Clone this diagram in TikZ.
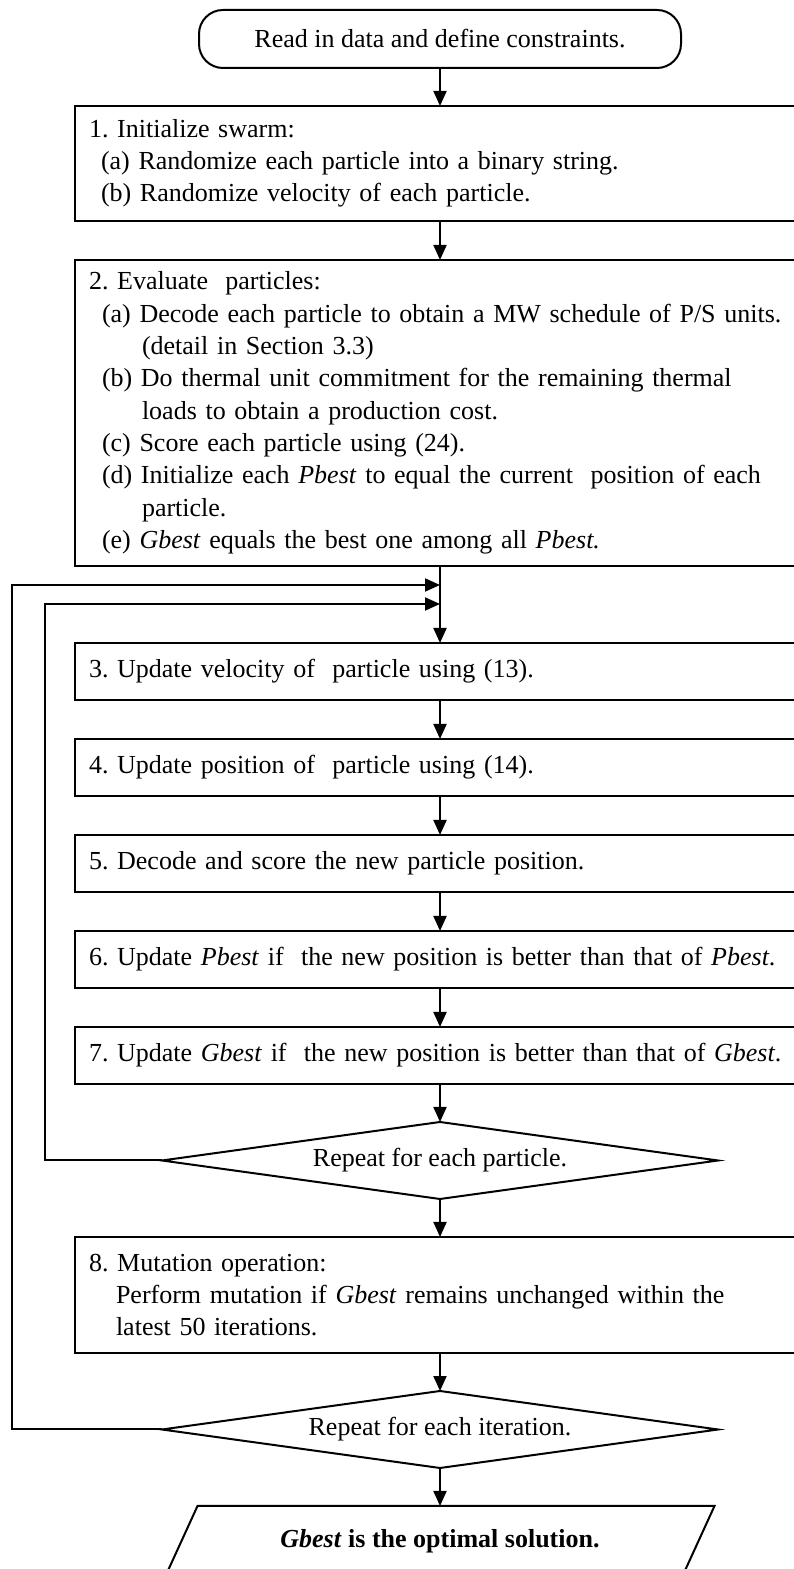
\documentclass[tikz,border=0pt]{standalone}
\usepackage{fontspec}
\setmainfont{Liberation Serif}
\usepackage{tikz}
\usetikzlibrary{shapes.geometric,arrows.meta}
\usetikzlibrary{positioning}
\newcommand{\flowfont}{\fontsize{26pt}{32.3pt}\selectfont}
\tikzstyle{terminal} = [rectangle, draw, line width=2pt, rounded corners=24pt,
    minimum width=482pt, minimum height=58pt]
\tikzstyle{block} = [rectangle, draw, line width=2pt, text width=702pt,
    align=left, inner xsep=14pt, inner ysep=0pt, minimum height=57pt]
\tikzstyle{decision} = [diamond, draw, line width=2pt, aspect=7.2,
    inner sep=1pt, minimum width=556pt, minimum height=77pt]
\tikzstyle{io} = [rectangle, inner sep=0pt, minimum width=549pt,
    minimum height=70pt, font=\flowfont\bfseries]
\tikzstyle{line} = [draw, line width=2pt, -{Triangle[length=15pt,width=13pt]}]

\begin{document}
\frenchspacing
\begin{tikzpicture}[x=1pt, y=1pt, node distance=38pt,
    every node/.style={font=\flowfont, outer sep=0pt}]
  \useasboundingbox (0,0) rectangle (794,1569);
  % Place nodes
  \node [terminal] (start) at (440,1530) {Read in data and define constraints.};
  \node [block, below=of start, minimum height=115pt] (init) {1. Initialize swarm:\\
    \hspace*{12pt}(a) Randomize each particle into a binary string.\\
    \hspace*{12pt}(b) Randomize velocity of each particle.};
  \node [block, below=39pt of init, minimum height=306pt] (eval) {2. Evaluate\ \ particles:\\
    \hspace*{13pt}(a) Decode each particle to obtain a MW schedule of P/S units.\\
    \hspace*{53pt}(detail in Section 3.3)\\
    \hspace*{13pt}(b) Do thermal unit commitment for the remaining thermal\\
    \hspace*{53pt}loads to obtain a production cost.\\
    \hspace*{13pt}(c) Score each particle using (24).\\
    \hspace*{13pt}(d) Initialize each \textit{Pbest} to equal the current\ \ position of each\\
    \hspace*{53pt}particle.\\
    \hspace*{13pt}(e) \textit{Gbest} equals the best one among all \textit{Pbest.}};
  \node [block, below=77pt of eval] (velo) {3. Update velocity of\ \ particle using (13).};
  \node [block, below=39pt of velo] (posi) {4. Update position of\ \ particle using (14).};
  \node [block, below=39pt of posi] (score) {5. Decode and score the new particle position.};
  \node [block, below=39pt of score] (pbest) {6. Update \textit{Pbest} if\ \ the new position is better than that of \textit{Pbest}.};
  \node [block, below=39pt of pbest] (gbest) {7. Update \textit{Gbest} if\ \ the new position is better than that of \textit{Gbest}.};
  \node [decision, below=of gbest] (rep1) {Repeat for each particle.};
  \node [block, below=of rep1, minimum height=116pt] (mutate) {8. Mutation operation:\\
    \hspace*{27pt}Perform mutation if \textit{Gbest} remains unchanged within the\\
    \hspace*{27pt}latest 50 iterations.};
  \node [decision, below=of mutate] (rep2) {Repeat for each iteration.};
  \node [io, below=of rep2] (result) {\textit{Gbest} is the optimal solution.};
  \draw [line width=2pt] ([xshift=32pt]result.north west) -- (result.north east)
    -- ([xshift=-32pt]result.south east) -- (result.south west) -- cycle;
  \coordinate (join1) at ([yshift=-19pt]eval.south);
  \coordinate (join2) at ([yshift=-38pt]eval.south);
  % Draw edges
  \path[line] (start) -- (init);
  \path[line] (init) -- (eval);
  \path[line] (eval) -- (velo);
  \path[line] (velo) -- (posi);
  \path[line] (posi) -- (score);
  \path[line] (score) -- (pbest);
  \path[line] (pbest) -- (gbest);
  \path[line] (gbest) -- (rep1);
  \path[line] (rep1) -- (mutate);
  \path[line] (mutate) -- (rep2);
  \path[line] (rep2) -- (result);
  \path[line] (rep1.west) -- ++(-117,0) |- (join2);
  \path[line] (rep2.west) -- ++(-150,0) |- (join1);
\end{tikzpicture}
\end{document}
